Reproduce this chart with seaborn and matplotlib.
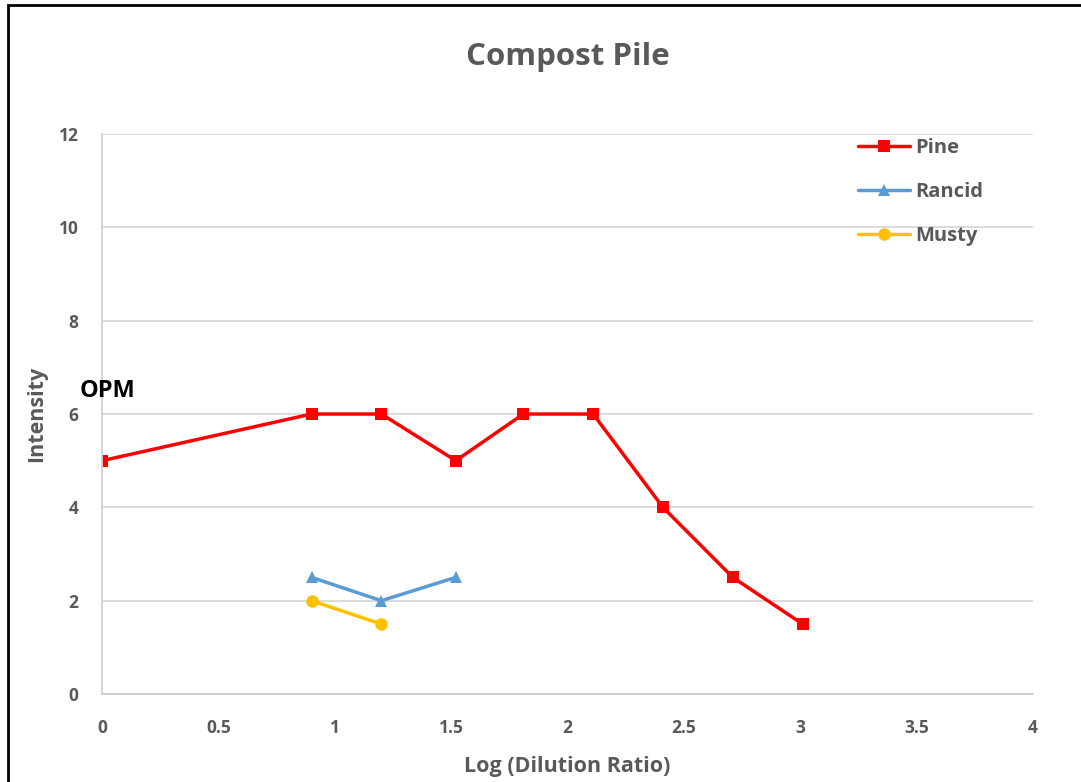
import matplotlib
matplotlib.use("Agg")
import matplotlib.pyplot as plt
import seaborn as sns
import pandas as pd

# data
pine_x = [0, 0.90, 1.20, 1.52, 1.81, 2.11, 2.41, 2.71, 3.01]
pine_y = [5, 6, 6, 5, 6, 6, 4, 2.5, 1.5]
rancid_x = [0.90, 1.20, 1.52]
rancid_y = [2.5, 2, 2.5]
musty_x = [0.90, 1.20]
musty_y = [2, 1.5]

x_ticks = [0, 0.5, 1, 1.5, 2, 2.5, 3, 3.5, 4]
x_tick_labels = ["0", "0.5", "1", "1.5", "2", "2.5", "3", "3.5", "4"]
y_ticks = [0, 2, 4, 6, 8, 10, 12]

sns.set_style("white")
plt.rcParams['font.family'] = ['Open Sans', 'Liberation Sans', 'DejaVu Sans']
grey = '#595959'

fig = plt.figure(figsize=(10.81, 7.82), dpi=100)
ax = fig.add_axes([0.0944, 0.1125, 0.8612, 0.7161])

sns.lineplot(x=pine_x, y=pine_y, ax=ax, color='#FF0000', marker='s',
             markersize=9, markeredgewidth=0, linewidth=2.5, label='Pine', sort=False)
sns.lineplot(x=rancid_x, y=rancid_y, ax=ax, color='#5B9BD5', marker='^',
             markersize=9, markeredgewidth=0, linewidth=2.5, label='Rancid', sort=False)
sns.lineplot(x=musty_x, y=musty_y, ax=ax, color='#FFC000', marker='o',
             markersize=9, markeredgewidth=0, linewidth=2.5, label='Musty', sort=False)

ax.set_xlim(0, 4)
ax.set_ylim(0, 12)
ax.set_xticks(x_ticks)
ax.set_xticklabels(x_tick_labels)
ax.set_yticks(y_ticks)
ax.grid(axis='y', color='#D9D9D9', linewidth=1.3)
ax.set_axisbelow(True)
for side in ['top', 'right']:
    ax.spines[side].set_visible(False)
for side in ['left', 'bottom']:
    ax.spines[side].set_color('#D0D0D0')
    ax.spines[side].set_linewidth(1.3)
ax.tick_params(axis='both', length=0, labelsize=12.5, labelcolor=grey)
ax.tick_params(axis='x', pad=18)
ax.tick_params(axis='y', pad=17)
for lab in ax.get_xticklabels() + ax.get_yticklabels():
    lab.set_fontweight('bold')

ax.set_xlabel('Log (Dilution Ratio)', fontsize=15.5, fontweight='bold', color=grey, labelpad=14)
ax.set_ylabel('Intensity', fontsize=15.5, fontweight='bold', color=grey, labelpad=8)
ax.set_title('Compost Pile', fontsize=22.5, fontweight='bold', color=grey, pad=50)

ax.text(-0.095, 6.5, 'OPM', fontsize=17, fontweight='bold', color='black',
        ha='left', va='center', clip_on=False)

leg = ax.legend(loc='upper right', bbox_to_anchor=(0.966, 1.025), frameon=False,
                fontsize=14.5, labelspacing=1.2, handlelength=2.6, handletextpad=0.25)
for t in leg.get_texts():
    t.set_color(grey)
    t.set_fontweight('bold')

# frame round the picture, cut off at right and bottom as in the reference
border = plt.Rectangle((0.007, -0.05), 1.1, 1.044, transform=fig.transFigure,
                       fill=False, edgecolor='black', linewidth=2)
fig.patches.append(border)

fig.savefig('out.png', dpi=100)
